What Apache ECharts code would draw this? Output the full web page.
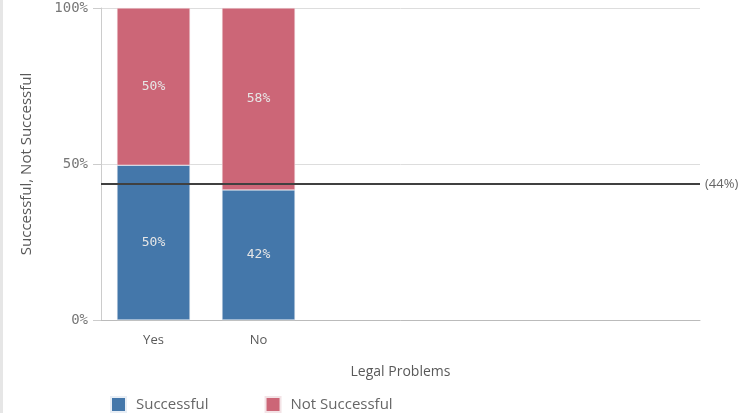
<!DOCTYPE html>
<html><head><meta charset="utf-8">
<script src="https://cdn.jsdelivr.net/npm/echarts@6/dist/echarts.min.js"></script>
<style>html,body{margin:0;padding:0;background:#fff}#c{width:743px;height:413px}</style>
</head><body><div id="c"></div>
<script>
const categories = ['Yes', 'No'];
const successful = [49.6, 41.7];
const notSuccessful = [50.4, 58.3];
const averageSuccess = 43.6;
const yTicks = [0, 50, 100];

// pad category slots so each band matches the reference spacing
const slots = categories.concat(['', '', '', '']);

const chart = echarts.init(document.getElementById('c'));
const mono = '"DejaVu Sans Mono", monospace';
const sans = '"Open Sans", sans-serif';
const pct = p => Math.round(p.value) + '%';
chart.setOption({
  animation: false,
  graphic: [{type: 'rect', shape: {x: 0, y: 0, width: 3, height: 413}, style: {fill: '#e6e6e6'}}],
  grid: [
    {left: 101, width: 630, top: 8, bottom: 93},
    {left: 101, right: 43, top: 8, bottom: 93}
  ],
  legend: {
    bottom: -5, left: 105, itemWidth: 15, itemHeight: 15, itemGap: 56,
    icon: 'rect',
    textStyle: {color: '#666', fontSize: 15, fontFamily: sans, padding: [0, 0, 0, 5]},
    data: ['Successful', 'Not Successful']
  },
  xAxis: [
    {
      gridIndex: 0, type: 'category', data: slots,
      axisLine: {show: false}, axisTick: {show: false},
      axisLabel: {color: '#595959', fontSize: 13, fontFamily: sans, margin: 14}
    },
    {
      gridIndex: 1, type: 'category', data: [''],
      name: 'Legal Problems', nameLocation: 'middle', nameGap: 45,
      nameTextStyle: {color: '#595959', fontSize: 14, fontFamily: sans},
      axisLine: {lineStyle: {color: '#bbb', width: 1}},
      axisTick: {show: false}, axisLabel: {show: false}
    }
  ],
  yAxis: [
    {gridIndex: 0, type: 'value', min: 0, max: 100, show: false},
    {
      gridIndex: 1, type: 'value', min: 0, max: 100, interval: 50,
      name: 'Successful, Not Successful', nameLocation: 'middle', nameGap: 67,
      nameTextStyle: {color: '#595959', fontSize: 15, fontFamily: sans},
      axisLine: {show: true, lineStyle: {color: '#ccc'}},
      axisTick: {show: true, length: 8, lineStyle: {color: '#ccc'}},
      splitLine: {lineStyle: {color: '#ddd'}},
      axisLabel: {color: '#777', fontSize: 14, fontFamily: mono, margin: 13,
        formatter: v => yTicks.indexOf(v) >= 0 ? v + '%' : ''}
    }
  ],
  series: [
    {
      name: 'Successful', type: 'bar', stack: 's', barWidth: 73,
      xAxisIndex: 0, yAxisIndex: 0,
      data: successful,
      itemStyle: {color: '#4477aa', borderColor: '#e8eef5', borderWidth: 0.5},
      label: {show: true, position: 'inside', color: '#e6e6e6', fontSize: 13, fontFamily: mono, formatter: pct}
    },
    {
      name: 'Not Successful', type: 'bar', stack: 's', barWidth: 73,
      xAxisIndex: 0, yAxisIndex: 0,
      data: notSuccessful,
      itemStyle: {color: '#cc6677', borderColor: '#f3e3e6', borderWidth: 0.5},
      label: {show: true, position: 'inside', color: '#e6e6e6', fontSize: 13, fontFamily: mono, formatter: pct}
    },
    {
      name: 'Average', type: 'line', xAxisIndex: 1, yAxisIndex: 1, data: [],
      markLine: {
        silent: true, symbol: 'none',
        lineStyle: {color: '#404040', width: 2, type: 'solid'},
        label: {position: 'end', color: '#666', fontSize: 13, fontFamily: sans, formatter: '(' + Math.round(averageSuccess) + '%)'},
        data: [{yAxis: averageSuccess}]
      }
    }
  ]
});
</script></body></html>
